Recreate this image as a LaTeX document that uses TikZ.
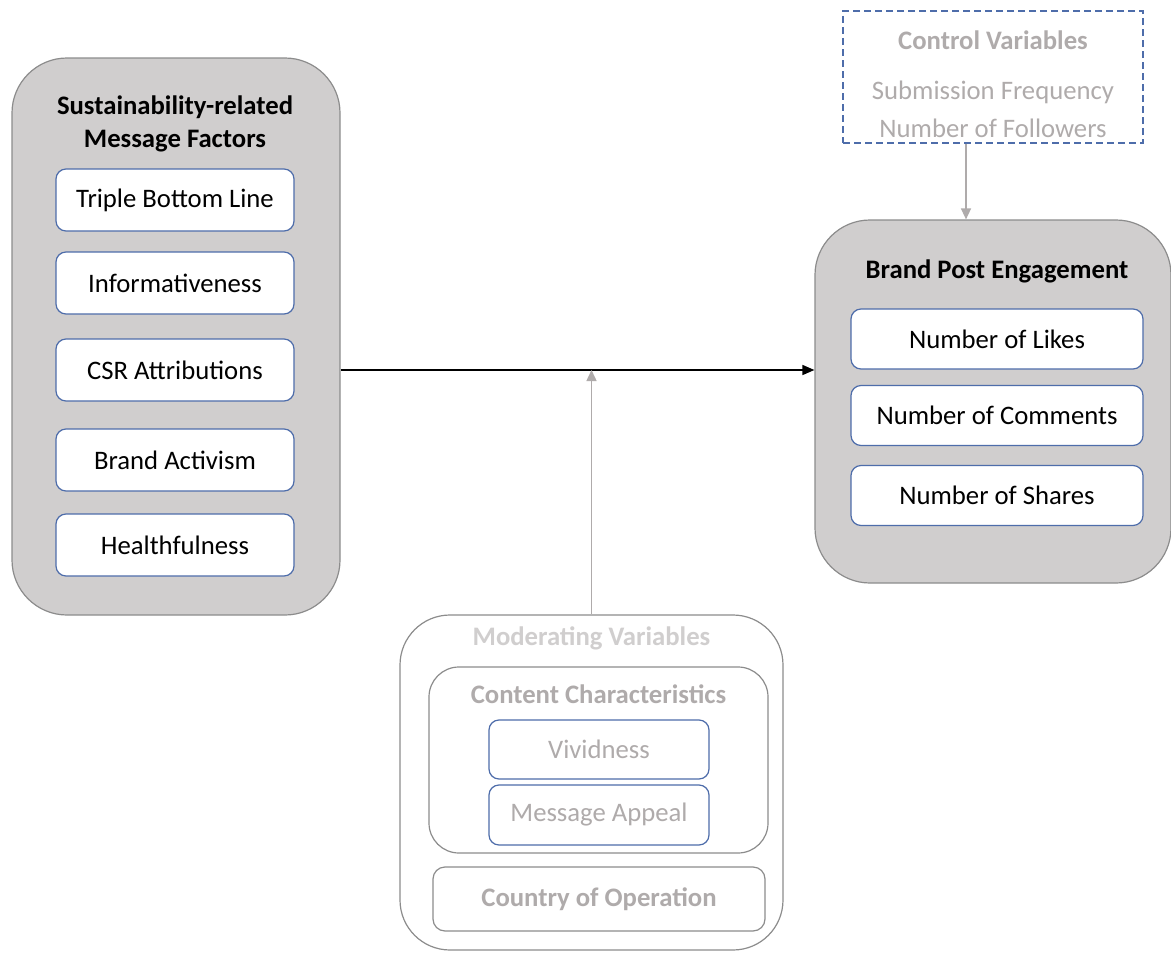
\documentclass[tikz,border=0pt]{standalone}
\usepackage{fontspec}
\setmainfont{Carlito}
\usetikzlibrary{arrows.meta,positioning}
\definecolor{boxgray}{HTML}{D0CECE}
\definecolor{edgegray}{HTML}{8C8C8C}
\definecolor{txtgray}{HTML}{AFABAB}
\definecolor{modgray}{HTML}{D0CECE}
\definecolor{itemblue}{HTML}{4E6DAA}
\newcommand{\bigfont}{\fontsize{26.7}{33}\selectfont}
\tikzset{
  bigbox/.style={draw=edgegray, fill=boxgray, line width=1.2pt, rounded corners=55pt, inner sep=0pt},
  modbox/.style={draw=edgegray, fill=white, line width=1.2pt, inner sep=0pt},
  item/.style={draw=itemblue, fill=white, line width=1.2pt, rounded corners=10pt, inner sep=0pt, font=\bigfont},
  title/.style={font=\bigfont\bfseries, align=center, inner sep=0pt},
}
\begin{document}
\begin{tikzpicture}[x=1pt,y=-1pt]
     \useasboundingbox (0,0) rectangle (1171,953);
     % independent variables
     \node[bigbox, minimum width=328pt, minimum height=557pt] (factors) at (176,336.5) {};
     \node[title] (ftitle) at (175,124) {Sustainability-related\\Message Factors};
     \node[item, minimum width=238pt, minimum height=62pt] (tbl) at (175,200) {Triple Bottom Line};
     \node[item, minimum width=238pt, minimum height=62pt] (info) at (175,283) {Informativeness};
     \node[item, minimum width=238pt, minimum height=62pt] (csr) at (175,370) {CSR Attributions};
     \node[item, minimum width=238pt, minimum height=62pt] (activ) at (175,460) {Brand Activism};
     \node[item, minimum width=238pt, minimum height=62pt] (health) at (175,545) {Healthfulness};
     % dependent variable
     \node[bigbox, minimum width=356pt, minimum height=363pt] (engage) at (993,401.5) {};
     \node[title] (etitle) at (997,271) {Brand Post Engagement};
     \node[item, minimum width=292pt, minimum height=60pt] (likes) at (997,339) {Number of Likes};
     \node[item, minimum width=292pt, minimum height=60pt] (comments) at (997,415.5) {Number of Comments};
     \node[item, minimum width=292pt, minimum height=60pt] (shares) at (997,495.5) {Number of Shares};
     % control variables
     \node[draw=itemblue, dash pattern=on 7pt off 4pt, line width=1.1pt, minimum width=300pt, minimum height=132pt] (control) at (993,77) {};
     \node[title, text=txtgray] (ctitle) at (993,40) {Control Variables};
     \node[font=\fontsize{26.7}{38}\selectfont, text=txtgray, align=center, inner sep=0pt] (clist) at (993,109) {Submission Frequency\\Number of Followers};
     % moderating variables
     \node[modbox, rounded corners=50pt, minimum width=383pt, minimum height=335pt] (moder) at (591.5,782.5) {};
     \node[title, text=modgray] (mtitle) at (591.5,638) {Moderating Variables};
     \node[modbox, rounded corners=30pt, minimum width=339pt, minimum height=186pt] (content) at (598.5,760) {};
     \node[title, text=txtgray] (cctitle) at (598.5,694) {Content Characteristics};
     \node[item, text=txtgray, minimum width=220pt, minimum height=59pt] (vivid) at (599,749.5) {Vividness};
     \node[item, text=txtgray, minimum width=220pt, minimum height=60pt] (appeal) at (599,815) {Message Appeal};
     \node[modbox, rounded corners=12pt, minimum width=332pt, minimum height=64pt, font=\bigfont\bfseries, text=txtgray] (country) at (599,899) {Country of Operation};
     % connectors
     \coordinate (ctl) at (966,0);
     \coordinate (mid) at (moder.north |- csr);
     \draw[line width=1.5pt, -{Triangle[length=12pt,width=10pt]}] (factors.east |- csr) -- (engage.west |- csr);
     \draw[txtgray, line width=1.5pt, -{Triangle[length=11pt,width=10pt]}] (moder.north) -- (mid);
     \draw[txtgray, line width=1.5pt, -{Triangle[length=11pt,width=10pt]}] (control.south -| ctl) -- (engage.north -| ctl);
\end{tikzpicture}
\end{document}
